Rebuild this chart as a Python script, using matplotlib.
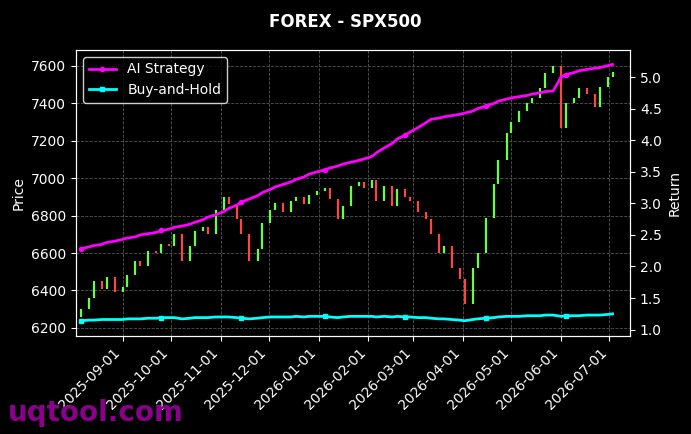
import matplotlib.pyplot as plt
import matplotlib.dates as mdates
import matplotlib.ticker as mticker
import pandas as pd

# price closes, roughly every 3 business days
closes = [6300, 6360, 6450, 6410, 6470, 6390, 6420,
          6480, 6560, 6530, 6610, 6600, 6650, 6640,
          6700, 6560, 6640, 6720, 6740, 6700, 6830, 6900,
          6860, 6780, 6700, 6560, 6620, 6760, 6830,
          6870, 6820, 6880, 6900, 6860, 6910, 6930,
          6950, 6890, 6780, 6850, 6960, 6980, 6950,
          6990, 6880, 6960, 6850, 6940, 6900, 6880,
          6820, 6780, 6700, 6600, 6640, 6520, 6460,
          6330, 6520, 6600, 6790, 6970, 7100, 7240,
          7300, 7360, 7400, 7430, 7480, 7560, 7600,
          7270, 7400, 7430, 7480, 7450, 7380, 7490,
          7540, 7570]
first_open = 6260

ai_return = [2.28, 2.31, 2.33, 2.35, 2.38, 2.40, 2.43,
             2.45, 2.47, 2.50, 2.52, 2.54, 2.57, 2.59,
             2.62, 2.64, 2.67, 2.70, 2.74, 2.78, 2.82, 2.87,
             2.92, 2.97, 3.02, 3.07, 3.12, 3.17, 3.22,
             3.26, 3.30, 3.34, 3.38, 3.42, 3.46, 3.50,
             3.53, 3.56, 3.59, 3.62, 3.65, 3.68, 3.70,
             3.74, 3.80, 3.88, 3.95, 4.02, 4.08, 4.13,
             4.20, 4.28, 4.33, 4.35, 4.37, 4.39, 4.41,
             4.43, 4.46, 4.50, 4.54, 4.58, 4.62, 4.65,
             4.67, 4.69, 4.71, 4.73, 4.75, 4.77, 4.78,
             5.00, 5.04, 5.07, 5.10, 5.12, 5.14, 5.15,
             5.18, 5.20]

bh_return = [1.14, 1.15, 1.15, 1.16, 1.16, 1.16, 1.16,
             1.17, 1.17, 1.17, 1.18, 1.18, 1.19, 1.19,
             1.19, 1.17, 1.18, 1.19, 1.19, 1.19, 1.20, 1.20,
             1.20, 1.19, 1.18, 1.17, 1.18, 1.19, 1.20,
             1.20, 1.20, 1.20, 1.21, 1.20, 1.21, 1.21,
             1.21, 1.20, 1.19, 1.20, 1.21, 1.21, 1.21,
             1.21, 1.20, 1.21, 1.20, 1.21, 1.20, 1.20,
             1.19, 1.19, 1.18, 1.17, 1.17, 1.16, 1.15,
             1.14, 1.16, 1.17, 1.18, 1.19, 1.20, 1.21,
             1.21, 1.21, 1.22, 1.22, 1.22, 1.23, 1.23,
             1.21, 1.22, 1.22, 1.22, 1.23, 1.23, 1.23,
             1.24, 1.25]

dates = pd.bdate_range('2025-08-06', periods=len(closes), freq='3B')
opens = [first_open] + closes[:-1]

fig = plt.figure(figsize=(6.91, 4.34), dpi=100, facecolor='black')
ax = fig.add_axes([0.11, 0.226, 0.802, 0.659], facecolor='black')

up_c, down_c = '#66ff44', '#ff4444'
for d, o, c in zip(dates, opens, closes):
    col = up_c if c >= o else down_c
    ax.vlines(d, min(o, c), max(o, c), color=col, linewidth=1.6)

ax.set_ylim(6157, 7686)
ax.set_xlim(pd.Timestamp('2025-08-03'), pd.Timestamp('2026-07-14'))
ax.set_ylabel('Price', color='white')
ax.grid(True, color='#555555', linestyle='--', linewidth=0.6)
ax.xaxis.set_major_locator(mdates.MonthLocator())
ax.xaxis.set_major_formatter(mdates.DateFormatter('%Y-%m-%d'))
plt.setp(ax.get_xticklabels(), rotation=45, ha='right')
ax.tick_params(colors='white')
for s in ax.spines.values():
    s.set_color('white')

ax2 = ax.twinx()
ax2.plot(dates, ai_return, color='#ff00ff', linewidth=2, marker='o', markersize=3,
         markevery=12, label='AI Strategy')
ax2.plot(dates, bh_return, color='#00ffff', linewidth=2, marker='s', markersize=3,
         markevery=12, label='Buy-and-Hold')
ax2.set_ylim(0.9, 5.43)
ax2.yaxis.set_major_locator(mticker.MultipleLocator(0.5))
ax2.yaxis.set_major_formatter(mticker.FormatStrFormatter('%.1f'))
ax2.set_ylabel('Return', color='white')
ax2.tick_params(colors='white')
for s in ax2.spines.values():
    s.set_color('white')
leg = ax2.legend(loc='upper left', facecolor='black', edgecolor='white')
for t in leg.get_texts():
    t.set_color('white')

fig.suptitle('FOREX - SPX500', color='white', fontweight='bold', y=0.97)
fig.text(0.012, 0.03, 'uqtool.com', color='#8b008b', fontsize=20, fontweight='bold')
fig.savefig('out.png', facecolor='black')
